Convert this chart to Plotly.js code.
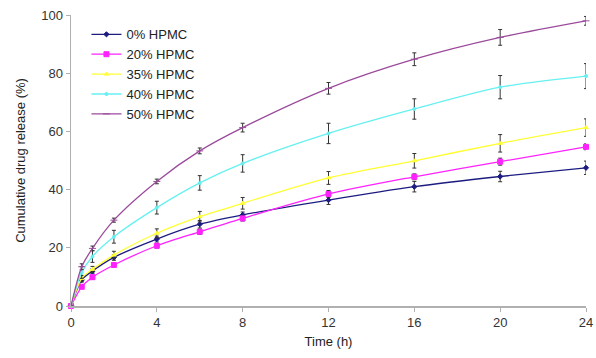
<!DOCTYPE html>
<html>
<head>
<meta charset="utf-8">
<script src="https://cdn.plot.ly/plotly-3.0.1.min.js"></script>
<style>html,body{margin:0;padding:0;background:#fff;}#chart{width:596px;height:358px;}</style>
</head>
<body>
<div id="chart"></div>
<script>
var time = [0, 0.5, 1, 2, 4, 6, 8, 12, 16, 20, 24];
var seriesNames = ["0% HPMC", "20% HPMC", "35% HPMC", "40% HPMC", "50% HPMC"];
var hpmc0  = [0, 9.0, 12.0, 16.7, 23.0, 28.1, 31.3, 36.4, 41.0, 44.5, 47.5];
var hpmc20 = [0, 6.6, 9.9, 14.1, 20.7, 25.5, 30.1, 38.5, 44.4, 49.6, 54.7];
var hpmc35 = [0, 9.5, 12.6, 17.5, 25.0, 30.7, 35.3, 44.0, 49.9, 55.9, 61.3];
var hpmc40 = [0, 11.5, 17.0, 23.8, 33.8, 42.3, 49.0, 59.3, 67.7, 75.2, 79.0];
var hpmc50 = [0, 13.5, 19.8, 29.5, 42.8, 53.3, 61.3, 74.8, 84.8, 92.3, 98.0];
var err0  = [0, 0.8, 0.8, 1.0, 1.0, 1.3, 1.0, 1.5, 1.8, 1.8, 2.3];
var err20 = [0, 0.6, 0.7, 0.8, 0.8, 0.9, 0.9, 1.2, 1.0, 1.2, 1.0];
var err35 = [0, 1.0, 1.0, 1.3, 1.5, 1.8, 2.0, 2.2, 2.5, 3.0, 3.0];
var err40 = [0, 2.0, 2.0, 2.2, 2.2, 2.5, 3.0, 3.5, 3.5, 4.0, 4.3];
var err50 = [0, 1.0, 0.8, 0.7, 0.8, 1.0, 1.5, 2.0, 2.2, 2.7, 1.5];

var values = [hpmc0, hpmc20, hpmc35, hpmc40, hpmc50];
var errors = [err0, err20, err35, err40, err50];
var colors = ["#1c1c80", "#ff22ff", "#ffff33", "#66f0f0", "#9b4a9b"];
var symbols = ["diamond", "square", "triangle-up", "circle", "line-ew-open"];
var sizes = [4, 5, 4, 3, 5];

var traces = seriesNames.map(function(n, i){
  return {
    x: time, y: values[i], name: n, type: "scatter", mode: "lines+markers",
    line: {color: colors[i], width: 1.3, shape: "spline", smoothing: 0.8},
    marker: {color: colors[i], symbol: symbols[i], size: sizes[i], line: {color: colors[i], width: 1}},
    error_y: {type: "data", array: errors[i], visible: true, color: "#333333", thickness: 1, width: 2},
    cliponaxis: false
  };
});

var layout = {
  width: 596, height: 358,
  margin: {l: 71, r: 10, t: 15, b: 52},
  paper_bgcolor: "#fff", plot_bgcolor: "#fff",
  font: {family: "Liberation Sans, Arial, sans-serif", color: "#333", size: 12},
  showlegend: true,
  legend: {x: 0.03, y: 0.985, xanchor: "left", yanchor: "top", bgcolor: "rgba(0,0,0,0)",
           font: {size: 13, color: "#222"}, tracegroupgap: 0, itemwidth: 30},
  xaxis: {
    range: [0, 24], tickvals: [0, 4, 8, 12, 16, 20, 24], showgrid: false, zeroline: false,
    showline: true, linecolor: "#b0b0b0", linewidth: 1.5, ticks: "outside", ticklen: 4, tickcolor: "#b0b0b0",
    tickfont: {size: 13, color: "#333"},
    title: {text: "Time (h)", font: {size: 13, color: "#222"}, standoff: 8}
  },
  yaxis: {
    range: [0, 100], tickvals: [0, 20, 40, 60, 80, 100], showgrid: false, zeroline: false,
    showline: true, linecolor: "#b0b0b0", linewidth: 1.5, ticks: "outside", ticklen: 4, tickcolor: "#b0b0b0",
    tickfont: {size: 13, color: "#333"},
    title: {text: "Cumulative drug release (%)", font: {size: 13, color: "#222"}, standoff: 12}
  }
};
Plotly.newPlot("chart", traces, layout, {staticPlot: true, displayModeBar: false});
</script>
</body>
</html>
